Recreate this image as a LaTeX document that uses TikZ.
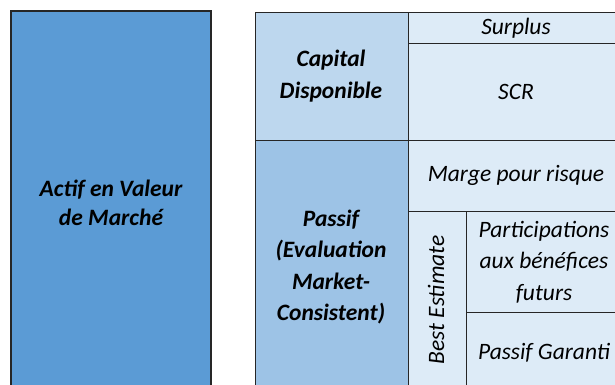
\documentclass[tikz,border=0pt]{standalone}
\usepackage{fontspec}
\setmainfont{Carlito}
\definecolor{actif}{HTML}{5B9BD5}
\definecolor{capital}{HTML}{BDD7EE}
\definecolor{passif}{HTML}{9DC3E6}
\definecolor{cell}{HTML}{DDEBF7}
\tikzset{
  box/.style={draw=black!85, line width=0.9pt},
  bigtxt/.style={font=\fontsize{23.5}{29}\selectfont\bfseries\itshape, align=center, inner sep=0pt},
  celltxt/.style={font=\fontsize{23.5}{31.5}\selectfont\itshape, align=center, inner sep=0pt},
}
\begin{document}
\begin{tikzpicture}[x=1pt,y=-1pt]
\useasboundingbox (0,0) rectangle (615,385);
\clip (0,0) rectangle (615,385);
% asset column
\path[box, fill=actif, line width=1.2pt] (11,11) rectangle (211,400);
% balance sheet: left column
\path[box, fill=capital] (255,12) rectangle (408,140);
\path[box, fill=passif] (255,140) rectangle (408,400);
% balance sheet: right cells
\path[box, fill=cell] (408,12) rectangle (625,43);
\path[box, fill=cell] (408,43) rectangle (625,140);
\path[box, fill=cell] (408,140) rectangle (625,211);
\path[box, fill=cell] (408,211) rectangle (466,400);
\path[box, fill=cell] (466,211) rectangle (625,312);
\path[box, fill=cell] (466,312) rectangle (625,400);
% labels
\node[bigtxt] (actiftxt) at (111,203) {Actif en Valeur\\de Marché};
\node[bigtxt, font=\fontsize{23.5}{31.5}\selectfont\bfseries\itshape] (captxt) at (331,76) {Capital\\Disponible};
\node[bigtxt, font=\fontsize{23.5}{31.5}\selectfont\bfseries\itshape] (pastxt) at (331,267) {Passif\\(Evaluation\\Market-\\Consistent)};
\node[celltxt] (surplus) at (516,28) {Surplus};
\node[celltxt] (scr) at (516,92) {SCR};
\node[celltxt] (marge) at (516,175) {Marge pour risque};
\node[celltxt, rotate=90] (be) at (436,300) {Best Estimate};
\node[celltxt] (part) at (544,262) {Participations\\aux bénéfices\\futurs};
\node[celltxt] (garanti) at (544,353) {Passif Garanti};
\end{tikzpicture}
\end{document}
